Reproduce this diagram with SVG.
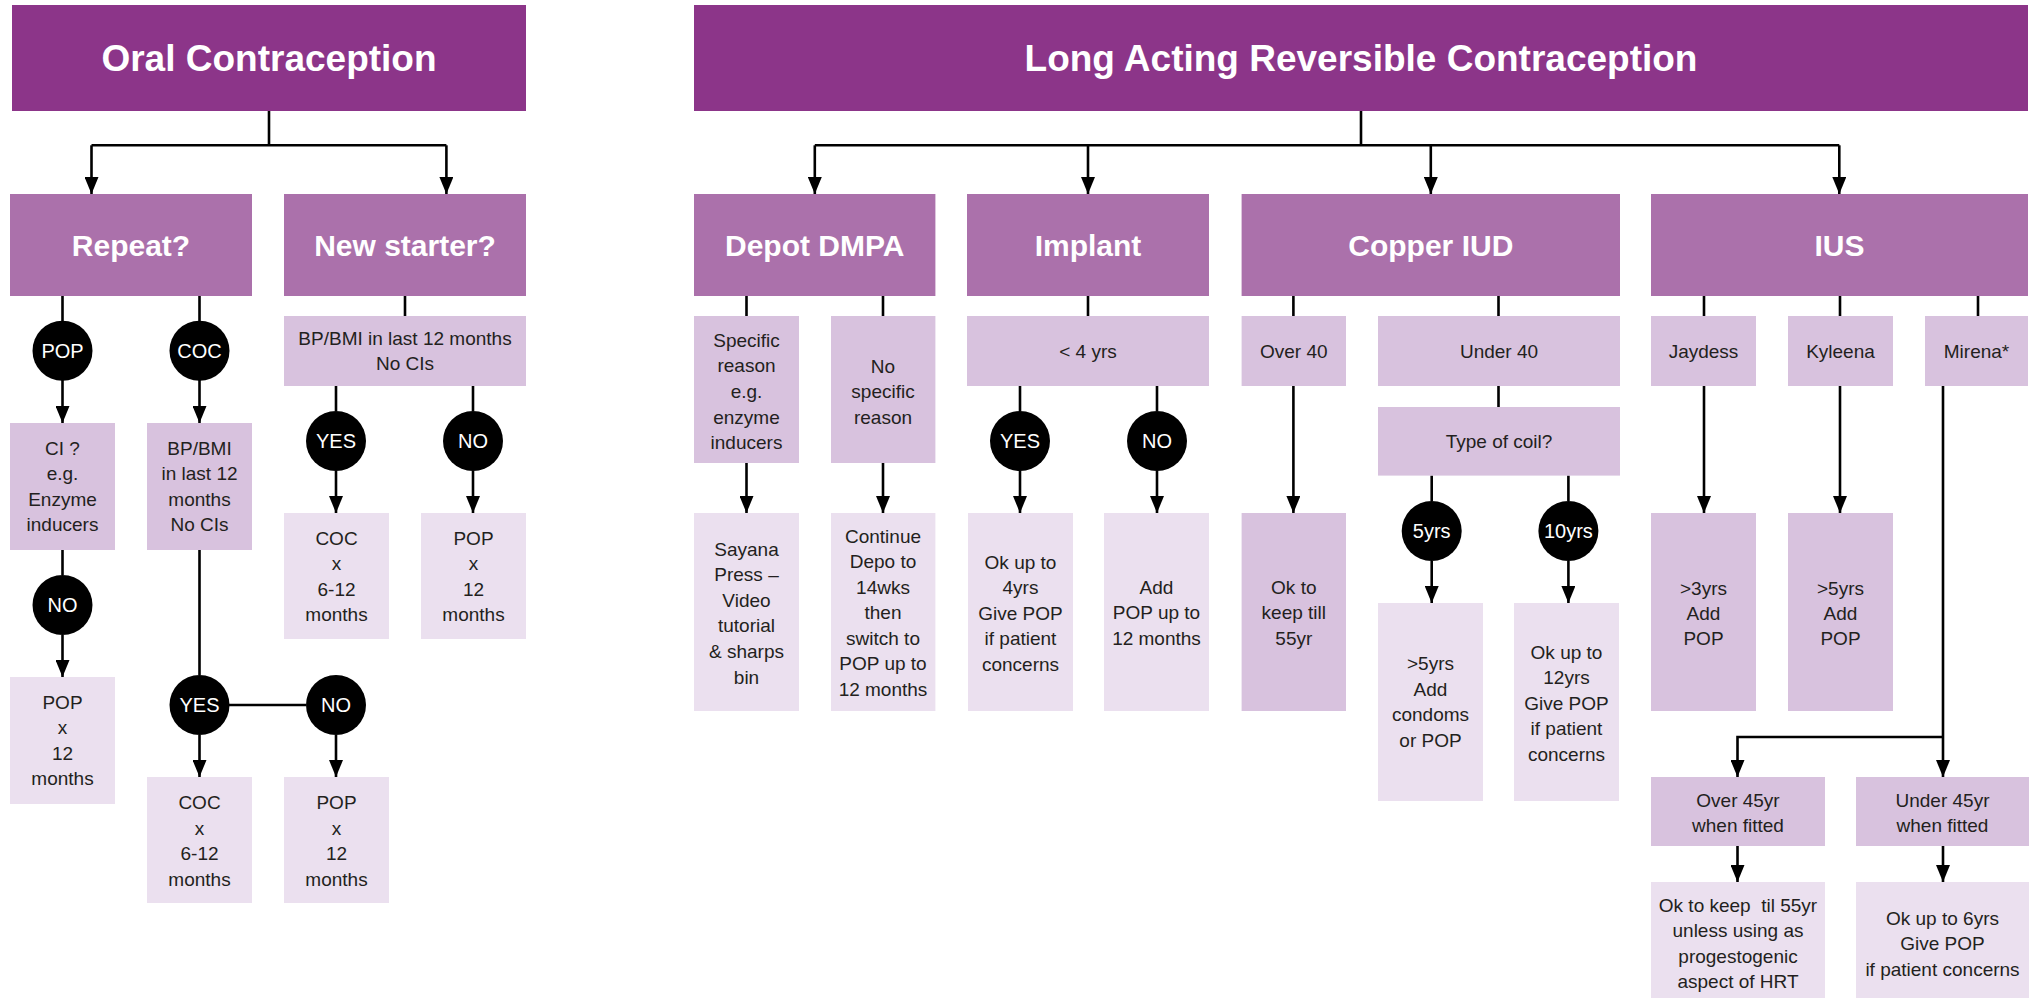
<svg xmlns="http://www.w3.org/2000/svg" width="2035" height="999" viewBox="0 0 2035 999">
<defs>
<style>
text{font-family:"Liberation Sans",Arial,sans-serif;text-anchor:middle}
.h{fill:#8C3589}.s{fill:#AB71AB}.m{fill:#D8C2DE}.l{fill:#EBE0EF}
.ht{fill:#fff;font-weight:bold;font-size:37px}
.st{fill:#fff;font-weight:bold;font-size:30px}
.t{fill:#231F20;font-size:19px}
.c{fill:#000}
.ct{fill:#fff;font-size:20px}
.cn path{fill:none;stroke:#000;stroke-width:2.6}
.cn path.a{marker-end:url(#arr)}
</style>
<marker id="arr" markerUnits="userSpaceOnUse" markerWidth="17" markerHeight="14" refX="17" refY="7" orient="auto" viewBox="0 0 17 14"><path d="M0,0 L17,7 L0,14 z" fill="#000"/></marker>
</defs>
<rect width="2035" height="999" fill="#fff"/>

<g id="connectors" class="cn">
<path d="M269,111 V145.3 M91.5,145.3 H446.4"/>
<path class="a" d="M91.5,145.3 V194"/>
<path class="a" d="M446.4,145.3 V194"/>
<path d="M62.5,296 V321 M199.5,296 V321"/>
<path class="a" d="M62.5,380 V423"/>
<path class="a" d="M199.5,380 V423"/>
<path d="M62.5,550 V575"/>
<path class="a" d="M62.5,635 V677"/>
<path d="M199.5,550 V675 M229,705 H306"/>
<path class="a" d="M199.5,735 V777"/>
<path class="a" d="M336,735 V777"/>
<path d="M405,296 V316 M336,386 V411 M473,386 V411"/>
<path class="a" d="M336,471 V513"/>
<path class="a" d="M473,471 V513"/>

<path d="M1361,111 V145.3 M814.8,145.3 H1839.3"/>
<path class="a" d="M814.8,145.3 V194"/>
<path class="a" d="M1088,145.3 V194"/>
<path class="a" d="M1430.8,145.3 V194"/>
<path class="a" d="M1839.3,145.3 V194"/>
<path d="M746.5,296 V316 M883,296 V316"/>
<path class="a" d="M746.5,463 V513"/>
<path class="a" d="M883,463 V513"/>
<path d="M1088,296 V316 M1020,386 V411 M1157,386 V411"/>
<path class="a" d="M1020,471 V513"/>
<path class="a" d="M1157,471 V513"/>
<path d="M1293.4,296 V316 M1498.5,296 V316"/>
<path class="a" d="M1293.4,386 V513"/>
<path d="M1498.5,386 V407 M1431.7,475.6 V501 M1568.4,475.6 V501"/>
<path class="a" d="M1431.7,561 V603"/>
<path class="a" d="M1568.4,561 V603"/>
<path d="M1704,296 V316 M1840,296 V316 M1978,296 V316"/>
<path class="a" d="M1704,386 V513"/>
<path class="a" d="M1840,386 V513"/>
<path class="a" d="M1943,386 V777"/>
<path class="a" d="M1943,737 H1737.5 V777"/>
<path class="a" d="M1737.5,846 V882"/>
<path class="a" d="M1943,846 V882"/>
</g>

<g id="oral-header"><rect class="h" x="12" y="5" width="514" height="106"/><text class="ht" x="269" y="71">Oral Contraception</text></g>
<g id="larc-header"><rect class="h" x="694" y="5" width="1334" height="106"/><text class="ht" x="1361" y="71">Long Acting Reversible Contraception</text></g>

<g id="repeat"><rect class="s" x="10" y="194" width="242" height="102"/><text class="st" x="131" y="256">Repeat?</text></g>
<g id="new-starter"><rect class="s" x="284" y="194" width="242" height="102"/><text class="st" x="405" y="256">New starter?</text></g>
<g id="depot"><rect class="s" x="694" y="194" width="241.4" height="102"/><text class="st" x="814.7" y="256">Depot DMPA</text></g>
<g id="implant"><rect class="s" x="967" y="194" width="242" height="102"/><text class="st" x="1088" y="256">Implant</text></g>
<g id="copper"><rect class="s" x="1241.6" y="194" width="378.4" height="102"/><text class="st" x="1430.8" y="256">Copper IUD</text></g>
<g id="ius"><rect class="s" x="1651" y="194" width="377" height="102"/><text class="st" x="1839.5" y="256">IUS</text></g>

<g id="pop-circle"><circle class="c" cx="62.5" cy="350.7" r="30"/><text class="ct" x="62.5" y="357.7">POP</text></g>
<g id="coc-circle"><circle class="c" cx="199.5" cy="350.7" r="30"/><text class="ct" x="199.5" y="357.7">COC</text></g>
<g id="ci"><rect class="m" x="10" y="423" width="105" height="127"/><text class="t" x="62.5"><tspan x="62.5" y="454.5">CI ?</tspan><tspan x="62.5" y="480">e.g.</tspan><tspan x="62.5" y="505.5">Enzyme</tspan><tspan x="62.5" y="531">inducers</tspan></text></g>
<g id="bpbmi-repeat"><rect class="m" x="147" y="423" width="105" height="127"/><text class="t"><tspan x="199.5" y="454.5">BP/BMI</tspan><tspan x="199.5" y="480">in last 12</tspan><tspan x="199.5" y="505.5">months</tspan><tspan x="199.5" y="531">No CIs</tspan></text></g>
<g id="no-ci"><circle class="c" cx="62.5" cy="605" r="30"/><text class="ct" x="62.5" y="612">NO</text></g>
<g id="pop-12-repeat"><rect class="l" x="10" y="677" width="105" height="127"/><text class="t"><tspan x="62.5" y="708.5">POP</tspan><tspan x="62.5" y="734">x</tspan><tspan x="62.5" y="759.5">12</tspan><tspan x="62.5" y="785">months</tspan></text></g>
<g id="yes-repeat"><circle class="c" cx="199.5" cy="705" r="30"/><text class="ct" x="199.5" y="712">YES</text></g>
<g id="no-repeat"><circle class="c" cx="336" cy="705" r="30"/><text class="ct" x="336" y="712">NO</text></g>
<g id="coc-repeat"><rect class="l" x="147" y="777" width="105" height="126"/><text class="t"><tspan x="199.5" y="809">COC</tspan><tspan x="199.5" y="835">x</tspan><tspan x="199.5" y="860">6-12</tspan><tspan x="199.5" y="886">months</tspan></text></g>
<g id="pop-repeat"><rect class="l" x="284" y="777" width="105" height="126"/><text class="t"><tspan x="336.5" y="809">POP</tspan><tspan x="336.5" y="835">x</tspan><tspan x="336.5" y="860">12</tspan><tspan x="336.5" y="886">months</tspan></text></g>

<g id="bpbmi-new"><rect class="m" x="284" y="316" width="242" height="70"/><text class="t"><tspan x="405" y="344.5">BP/BMI in last 12 months</tspan><tspan x="405" y="369.5">No CIs</tspan></text></g>
<g id="yes-new"><circle class="c" cx="336" cy="441" r="30"/><text class="ct" x="336" y="448">YES</text></g>
<g id="no-new"><circle class="c" cx="473" cy="441" r="30"/><text class="ct" x="473" y="448">NO</text></g>
<g id="coc-new"><rect class="l" x="284" y="513" width="105" height="126"/><text class="t"><tspan x="336.5" y="544.5">COC</tspan><tspan x="336.5" y="570">x</tspan><tspan x="336.5" y="595.5">6-12</tspan><tspan x="336.5" y="621">months</tspan></text></g>
<g id="pop-new"><rect class="l" x="421" y="513" width="105" height="126"/><text class="t"><tspan x="473.5" y="544.5">POP</tspan><tspan x="473.5" y="570">x</tspan><tspan x="473.5" y="595.5">12</tspan><tspan x="473.5" y="621">months</tspan></text></g>

<g id="specific"><rect class="m" x="694" y="316" width="105" height="147"/><text class="t"><tspan x="746.5" y="346.5">Specific</tspan><tspan x="746.5" y="372">reason</tspan><tspan x="746.5" y="397.7">e.g.</tspan><tspan x="746.5" y="423.5">enzyme</tspan><tspan x="746.5" y="449">inducers</tspan></text></g>
<g id="no-specific"><rect class="m" x="831" y="316" width="104.4" height="147"/><text class="t"><tspan x="883" y="372.5">No</tspan><tspan x="883" y="398">specific</tspan><tspan x="883" y="423.5">reason</tspan></text></g>
<g id="sayana"><rect class="l" x="694" y="513" width="105" height="198"/><text class="t"><tspan x="746.5" y="555.5">Sayana</tspan><tspan x="746.5" y="581">Press –</tspan><tspan x="746.5" y="606.5">Video</tspan><tspan x="746.5" y="632">tutorial</tspan><tspan x="746.5" y="658">&amp; sharps</tspan><tspan x="746.5" y="683.5">bin</tspan></text></g>
<g id="continue"><rect class="l" x="831" y="513" width="104.4" height="198"/><text class="t"><tspan x="883" y="542.5">Continue</tspan><tspan x="883" y="568">Depo to</tspan><tspan x="883" y="593.5">14wks</tspan><tspan x="883" y="619">then</tspan><tspan x="883" y="644.5">switch to</tspan><tspan x="883" y="670">POP up to</tspan><tspan x="883" y="695.5">12 months</tspan></text></g>

<g id="lt4"><rect class="m" x="967" y="316" width="242" height="70"/><text class="t" x="1088" y="358">&lt; 4 yrs</text></g>
<g id="yes-implant"><circle class="c" cx="1020" cy="441" r="30"/><text class="ct" x="1020" y="448">YES</text></g>
<g id="no-implant"><circle class="c" cx="1157" cy="441" r="30"/><text class="ct" x="1157" y="448">NO</text></g>
<g id="ok-4yrs"><rect class="l" x="968" y="513" width="105" height="198"/><text class="t"><tspan x="1020.5" y="568.5">Ok up to</tspan><tspan x="1020.5" y="594">4yrs</tspan><tspan x="1020.5" y="619.5">Give POP</tspan><tspan x="1020.5" y="645">if patient</tspan><tspan x="1020.5" y="670.5">concerns</tspan></text></g>
<g id="add-pop-12"><rect class="l" x="1104" y="513" width="105" height="198"/><text class="t"><tspan x="1156.5" y="593.5">Add</tspan><tspan x="1156.5" y="619">POP up to</tspan><tspan x="1156.5" y="644.5">12 months</tspan></text></g>

<g id="over40"><rect class="m" x="1241.6" y="316" width="104.4" height="70"/><text class="t" x="1293.8" y="358">Over 40</text></g>
<g id="under40"><rect class="m" x="1378" y="316" width="242" height="70"/><text class="t" x="1499" y="358">Under 40</text></g>
<g id="ok-55"><rect class="m" x="1241.6" y="513" width="104.4" height="198"/><text class="t"><tspan x="1293.8" y="593.5">Ok to</tspan><tspan x="1293.8" y="619">keep till</tspan><tspan x="1293.8" y="644.5">55yr</tspan></text></g>
<g id="type-coil"><rect class="m" x="1378" y="407" width="242" height="68.6"/><text class="t" x="1499" y="447.5">Type of coil?</text></g>
<g id="c5yrs"><circle class="c" cx="1431.7" cy="531" r="30"/><text class="ct" x="1431.7" y="538">5yrs</text></g>
<g id="c10yrs"><circle class="c" cx="1568.4" cy="531" r="30"/><text class="ct" x="1568.4" y="538">10yrs</text></g>
<g id="gt5-condoms"><rect class="l" x="1378" y="603" width="105" height="198"/><text class="t"><tspan x="1430.5" y="670">&gt;5yrs</tspan><tspan x="1430.5" y="695.5">Add</tspan><tspan x="1430.5" y="721">condoms</tspan><tspan x="1430.5" y="746.5">or POP</tspan></text></g>
<g id="ok-12yrs"><rect class="l" x="1514" y="603" width="105" height="198"/><text class="t"><tspan x="1566.5" y="658.5">Ok up to</tspan><tspan x="1566.5" y="684">12yrs</tspan><tspan x="1566.5" y="709.5">Give POP</tspan><tspan x="1566.5" y="735">if patient</tspan><tspan x="1566.5" y="760.5">concerns</tspan></text></g>

<g id="jaydess"><rect class="m" x="1651" y="316" width="105" height="70"/><text class="t" x="1703.5" y="358">Jaydess</text></g>
<g id="kyleena"><rect class="m" x="1788" y="316" width="105" height="70"/><text class="t" x="1840.5" y="358">Kyleena</text></g>
<g id="mirena"><rect class="m" x="1925" y="316" width="103" height="70"/><text class="t" x="1976.5" y="358">Mirena*</text></g>
<g id="gt3"><rect class="m" x="1651" y="513" width="105" height="198"/><text class="t"><tspan x="1703.5" y="594.5">&gt;3yrs</tspan><tspan x="1703.5" y="620">Add</tspan><tspan x="1703.5" y="645">POP</tspan></text></g>
<g id="gt5"><rect class="m" x="1788" y="513" width="105" height="198"/><text class="t"><tspan x="1840.5" y="594.5">&gt;5yrs</tspan><tspan x="1840.5" y="620">Add</tspan><tspan x="1840.5" y="645">POP</tspan></text></g>
<g id="over45"><rect class="m" x="1651" y="777" width="174" height="69"/><text class="t"><tspan x="1738" y="806.5">Over 45yr</tspan><tspan x="1738" y="831.5">when fitted</tspan></text></g>
<g id="under45"><rect class="m" x="1856" y="777" width="173" height="69"/><text class="t"><tspan x="1942.5" y="806.5">Under 45yr</tspan><tspan x="1942.5" y="831.5">when fitted</tspan></text></g>
<g id="ok-til-55"><rect class="l" x="1651" y="882" width="174" height="116"/><text class="t" xml:space="preserve"><tspan x="1738" y="911.5">Ok to keep  til 55yr</tspan><tspan x="1738" y="937">unless using as</tspan><tspan x="1738" y="962.5">progestogenic</tspan><tspan x="1738" y="988">aspect of HRT</tspan></text></g>
<g id="ok-6yrs"><rect class="l" x="1856" y="882" width="173" height="116"/><text class="t"><tspan x="1942.5" y="924.5">Ok up to 6yrs</tspan><tspan x="1942.5" y="950">Give POP</tspan><tspan x="1942.5" y="975.5">if patient concerns</tspan></text></g>
</svg>
